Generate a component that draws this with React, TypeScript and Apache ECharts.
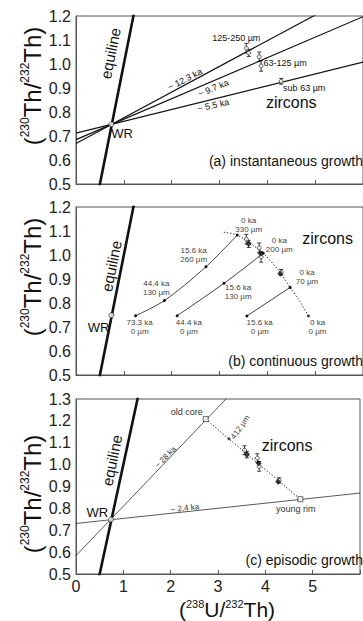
import React, { useEffect, useRef } from "react";
import * as echarts from "echarts";

// ---------- data (activity ratios) ----------
const xTicks = [0, 1, 2, 3, 4, 5, 6];
const yRangeAB = [0.5, 1.2];
const yRangeC = [0.5, 1.3];

const equiline = [[0.4, 0.4], [1.4, 1.4]];
const wholeRock = [[0.74, 0.749]];

// panel (a): isochrons through WR
const isochron123 = [[0, 0.669], [6, 1.311]];
const isochron97 = [[0, 0.685], [6, 1.197]];
const isochron55 = [[0, 0.712], [6, 1.008]];

// zircon analyses: [U/Th, Th/Th, 2-sigma]
const zirconAnalyses = [
  [3.56, 1.066, 0.02],
  [3.61, 1.046, 0.015],
  [3.83, 1.03, 0.02],
  [3.87, 0.992, 0.022],
  [4.29, 0.928, 0.012],
];
const zirconMeans = [[3.61, 1.048], [3.86, 1.006], [4.27, 0.922]];

// panel (b): continuous growth curves
const growth733 = [[1.246, 0.747], [1.848, 0.81], [2.717, 0.951], [3.37, 1.083]];
const growth444 = [[2.115, 0.747], [3.094, 0.882], [3.915, 1.007]];
const growth156 = [[3.573, 0.746], [4.476, 0.865]];
const zeroAgeLocus = [
  [3.09, 1.095], [3.37, 1.083], [3.64, 1.049], [3.915, 1.007],
  [4.26, 0.93], [4.476, 0.865], [4.67, 0.81], [4.86, 0.746],
];
const zeroAgeEnd = [[4.86, 0.746]];

// panel (c): episodic growth
const isochron28 = [[0, 0.584], [3.5, 1.375]];
const isochron24 = [[0, 0.731], [6, 0.87]];
const coreToRim = [[2.74, 1.208], [3.23, 1.118], [4.74, 0.842]];
const oldCore = [[2.74, 1.208]];
const youngRim = [[4.74, 0.842]];
const midGrowth = [[3.23, 1.118]];

const FONT = "'Liberation Sans', Arial, sans-serif";
const INK = "#111";
const FRAME = "#555";

type Ann = {
  g: number; x: number; y: number; text: string; size: number;
  rot?: number; align?: string; fill?: string;
};

const annotations: Ann[] = [
  // (a)
  { g: 0, x: 3.35, y: 1.107, text: "125-250 µm", size: 9 },
  { g: 0, x: 3.92, y: 1.003, text: "63-125 µm", size: 9, align: "left" },
  { g: 0, x: 4.33, y: 0.899, text: "sub 63 µm", size: 9, align: "left" },
  { g: 0, x: 4.5, y: 0.84, text: "zircons", size: 16 },
  { g: 0, x: 2.28, y: 0.936, text: "~ 12.3 ka", size: 9, rot: 27 },
  { g: 0, x: 2.87, y: 0.899, text: "~ 9.7 ka", size: 9, rot: 22 },
  { g: 0, x: 2.87, y: 0.828, text: "~ 5.5 ka", size: 9, rot: 13 },
  { g: 0, x: 0.965, y: 0.71, text: "WR", size: 13 },
  { g: 0, x: 0.72, y: 1.045, text: "equiline", size: 15, rot: 78.5 },
  // (b)
  { g: 1, x: 3.61, y: 1.125, text: "0 ka\n330 µm", size: 8, fill: "#444" },
  { g: 1, x: 4.25, y: 1.042, text: "0 ka\n200 µm", size: 8, fill: "#444" },
  { g: 1, x: 4.83, y: 0.908, text: "0 ka\n70 µm", size: 8, fill: "#444" },
  { g: 1, x: 2.46, y: 1.0, text: "15.6 ka\n260 µm", size: 8, fill: "#444" },
  { g: 1, x: 1.68, y: 0.863, text: "44.4 ka\n130 µm", size: 8, fill: "#444" },
  { g: 1, x: 3.39, y: 0.846, text: "15.6 ka\n130 µm", size: 8, fill: "#444" },
  { g: 1, x: 1.33, y: 0.7, text: "73.3 ka\n0 µm", size: 8, fill: "#444" },
  { g: 1, x: 2.36, y: 0.7, text: "44.4 ka\n0 µm", size: 8, fill: "#444" },
  { g: 1, x: 3.84, y: 0.7, text: "15.6 ka\n0 µm", size: 8, fill: "#444" },
  { g: 1, x: 5.05, y: 0.7, text: "0 ka\n0 µm", size: 8, fill: "#444" },
  { g: 1, x: 5.26, y: 1.067, text: "zircons", size: 16 },
  { g: 1, x: 0.47, y: 0.7, text: "WR", size: 13 },
  { g: 1, x: 0.74, y: 0.954, text: "equiline", size: 15, rot: 78.5 },
  // (c)
  { g: 2, x: 2.34, y: 1.24, text: "old core", size: 9, fill: "#333" },
  { g: 2, x: 4.64, y: 0.797, text: "young rim", size: 9, fill: "#333" },
  { g: 2, x: 3.47, y: 1.171, text: "412 µm", size: 8, rot: 55, fill: "#444" },
  { g: 2, x: 1.89, y: 1.034, text: "~ 28 ka", size: 8, rot: 45, fill: "#333" },
  { g: 2, x: 2.3, y: 0.801, text: "~ 2.4 ka", size: 8, rot: 6, fill: "#333" },
  { g: 2, x: 4.46, y: 1.089, text: "zircons", size: 16 },
  { g: 2, x: 0.45, y: 0.783, text: "WR", size: 13 },
  { g: 2, x: 0.76, y: 1.02, text: "equiline", size: 15, rot: 78.5 },
];

const panelTitles = [
  { g: 0, y: 0.594, text: "(a) instantaneous growth" },
  { g: 1, y: 0.558, text: "(b) continuous growth" },
  { g: 2, y: 0.564, text: "(c) episodic growth" },
];

const grids = [
  { top: 16, height: 168 },
  { top: 207, height: 168 },
  { top: 399, height: 175 },
];

function lineSeries(g: number, data: number[][], width: number, extra: any = {}, dotted = false) {
  return {
    type: "line",
    xAxisIndex: g,
    yAxisIndex: g,
    data,
    symbol: "none",
    showSymbol: false,
    clip: true,
    silent: true,
    ...extra,
    lineStyle: { color: INK, width, type: dotted ? [1.2, 2] : "solid" },
  };
}

function scatter(g: number, data: number[][], symbol: string, size: number, filled: boolean) {
  return {
    type: "scatter",
    xAxisIndex: g,
    yAxisIndex: g,
    data,
    symbol,
    symbolSize: size,
    silent: true,
    z: 5,
    itemStyle: filled
      ? { color: INK }
      : { color: "#fff", borderColor: INK, borderWidth: 0.8 },
  };
}

function errorBars(g: number) {
  return {
    type: "custom",
    xAxisIndex: g,
    yAxisIndex: g,
    data: zirconAnalyses,
    encode: { x: 0, y: 1 },
    silent: true,
    z: 4,
    renderItem: (params: any, api: any) => {
      const x = api.value(0);
      const y = api.value(1);
      const e = api.value(2);
      const t = api.coord([x, y + e]);
      const b = api.coord([x, y - e]);
      const c = 2;
      const st = { stroke: INK, lineWidth: 0.8 };
      return {
        type: "group",
        children: [
          { type: "line", shape: { x1: t[0], y1: t[1], x2: b[0], y2: b[1] }, style: st },
          { type: "line", shape: { x1: t[0] - c, y1: t[1], x2: t[0] + c, y2: t[1] }, style: st },
          { type: "line", shape: { x1: b[0] - c, y1: b[1], x2: b[0] + c, y2: b[1] }, style: st },
        ],
      };
    },
  };
}

const dotStyle = { symbol: "circle", symbolSize: 3, showSymbol: true, itemStyle: { color: INK } };

export default function App() {
  const ref = useRef<HTMLDivElement>(null);
  useEffect(() => {
    if (!ref.current) return;
    const chart = echarts.init(ref.current, null, { renderer: "svg" });

    const option: any = {
      animation: false,
      grid: grids.map((gr) => ({
        left: 76,
        width: 292,
        top: gr.top,
        height: gr.height,
        show: true,
        borderColor: FRAME,
        borderWidth: 1,
        backgroundColor: "transparent",
      })),
      xAxis: grids.map((_, i) => ({
        type: "value",
        gridIndex: i,
        min: xTicks[0],
        max: xTicks[xTicks.length - 1],
        interval: 1,
        axisLine: { show: true, lineStyle: { color: FRAME, width: 1 } },
        axisTick: { show: true, inside: true, length: 4, lineStyle: { color: FRAME } },
        splitLine: { show: false },
        axisLabel: {
          show: i === 2,
          fontSize: 16,
          color: "#222",
          fontFamily: FONT,
          margin: 4,
          formatter: (v: number) => (v === 6 ? "" : String(v)),
        },
      })),
      yAxis: grids.map((_, i) => {
        const r = i === 2 ? yRangeC : yRangeAB;
        return {
          type: "value",
          gridIndex: i,
          min: r[0],
          max: r[1],
          interval: 0.1,
          axisLine: { show: true, lineStyle: { color: FRAME, width: 1 } },
          axisTick: { show: false },
          splitLine: { show: false },
          axisLabel: {
            fontSize: 16,
            color: "#222",
            fontFamily: FONT,
            margin: 5,
            formatter: (v: number) => v.toFixed(1),
          },
        };
      }),
      series: [
        // ---- panel a ----
        lineSeries(0, equiline, 2.6),
        lineSeries(0, isochron123, 1.2),
        lineSeries(0, isochron97, 1.2),
        lineSeries(0, isochron55, 1.2),
        errorBars(0),
        scatter(0, zirconAnalyses.map((d) => [d[0], d[1]]), "circle", 4, false),
        scatter(0, wholeRock, "circle", 5, false),
        // ---- panel b ----
        lineSeries(1, equiline, 2.6),
        lineSeries(1, growth733, 0.8, { smooth: 0.3, ...dotStyle }),
        lineSeries(1, growth444, 0.8, { smooth: 0.3, ...dotStyle }),
        lineSeries(1, growth156, 0.8, { ...dotStyle }),
        lineSeries(1, zeroAgeLocus, 1, { smooth: 0.3 }, true),
        scatter(1, zeroAgeEnd, "circle", 3, true),
        errorBars(1),
        scatter(1, zirconAnalyses.map((d) => [d[0], d[1]]), "circle", 4, false),
        scatter(1, zirconMeans, "diamond", 6, true),
        scatter(1, wholeRock, "circle", 5, false),
        // ---- panel c ----
        lineSeries(2, equiline, 2.6),
        lineSeries(2, isochron28, 0.7),
        lineSeries(2, isochron24, 0.7),
        lineSeries(2, coreToRim, 1, {}, true),
        scatter(2, midGrowth, "circle", 3, true),
        scatter(2, oldCore, "rect", 5, false),
        scatter(2, youngRim, "rect", 5, false),
        errorBars(2),
        scatter(2, zirconAnalyses.map((d) => [d[0], d[1]]), "circle", 4, false),
        scatter(2, zirconMeans, "diamond", 6, true),
        scatter(2, wholeRock, "circle", 5, false),
      ],
    };
    chart.setOption(option);

    const toPx = (g: number, x: number, y: number) =>
      chart.convertToPixel({ gridIndex: g } as any, [x, y]) as number[];

    const graphics: any[] = [];
    annotations.forEach((a) => {
      const p = toPx(a.g, a.x, a.y);
      graphics.push({
        type: "text",
        x: p[0],
        y: p[1],
        rotation: ((a.rot || 0) * Math.PI) / 180,
        silent: true,
        z: 10,
        style: {
          text: a.text,
          fontSize: a.size,
          fontFamily: FONT,
          fill: a.fill || INK,
          align: a.align || "center",
          verticalAlign: "middle",
          lineHeight: a.size + 1,
        },
      });
    });
    panelTitles.forEach((t) => {
      const p = toPx(t.g, 0, t.y);
      graphics.push({
        type: "text",
        x: 363,
        y: p[1],
        silent: true,
        style: {
          text: t.text,
          fontSize: 14,
          fontFamily: FONT,
          fill: INK,
          align: "right",
          verticalAlign: "middle",
        },
      });
    });
    // y-axis titles
    [86, 277, 494].forEach((cy) => {
      graphics.push({
        type: "text",
        x: 32,
        y: cy,
        rotation: Math.PI / 2,
        silent: true,
        style: {
          text: "({s|230}Th/{s|232}Th)",
          fontSize: 24,
          lineHeight: 26,
          fontFamily: FONT,
          fill: INK,
          align: "center",
          verticalAlign: "middle",
          rich: {
            s: { fontSize: 12, lineHeight: 12, verticalAlign: "top", fontFamily: FONT, fill: INK },
          },
        },
      });
    });
    // x-axis title
    graphics.push({
      type: "text",
      x: 227,
      y: 609,
      silent: true,
      style: {
        text: "({s|238}U/{s|232}Th)",
        fontSize: 21,
        lineHeight: 22,
        fontFamily: FONT,
        fill: INK,
        align: "center",
        verticalAlign: "middle",
        rich: {
          s: { fontSize: 11, lineHeight: 11, verticalAlign: "top", fontFamily: FONT, fill: INK },
        },
      },
    });
    chart.setOption({ graphic: graphics });

    return () => chart.dispose();
  }, []);

  return (
    <div
      style={{ position: "fixed", left: 0, top: 0, width: 363, height: 621, overflow: "hidden", background: "#fff" }}
    >
      <div ref={ref} style={{ width: 363, height: 621 }} />
    </div>
  );
}
